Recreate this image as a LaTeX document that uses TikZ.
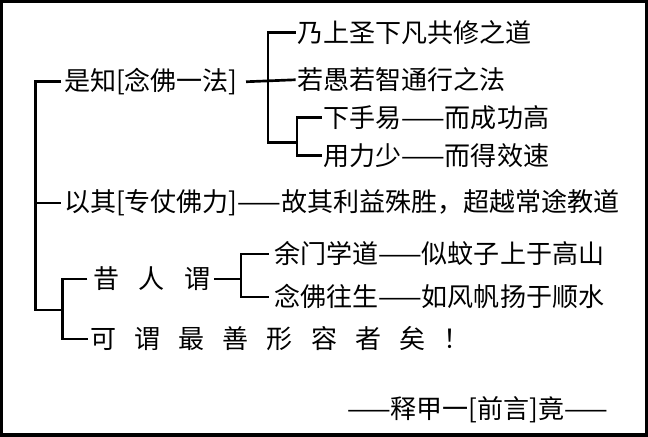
\documentclass[tikz,border=0pt]{standalone}
\usepackage{fontspec}
\setmainfont{Noto Sans CJK SC}
\usepackage{tikz}

\begin{document}
\begin{tikzpicture}[x=0.75pt,y=-0.75pt]
    \tikzstyle{txt} = [anchor=west, inner sep=0pt, font=\fontsize{19.5}{22}\selectfont]
    \tikzstyle{brk} = [line width=2pt]

    % frame
    \draw[line width=2.5pt, fill=white] (2,2) rectangle (646,435);

    % texts
    \node[txt] (shizhi) at (64,82) {是知[念佛一法]};
    \node[txt] (naishang) at (297,33) {乃上圣下凡共修之道};
    \node[txt] (ruoyu) at (297,80) {若愚若智通行之法};
    \node[txt] (xiashou) at (323,118) {下手易——而成功高};
    \node[txt] (yongli) at (323,156) {用力少——而得效速};
    \node[txt] (yiqi) at (64,203) {以其[专仗佛力]——故其利益殊胜，超越常途教道};
    \node[txt] (xiren) at (93,279) {昔\hspace{0.75em}人\hspace{0.75em}谓};
    \node[txt] (yumen) at (274,254) {余门学道——似蚊子上于高山};
    \node[txt] (nianfo) at (274,297) {念佛往生——如风帆扬于顺水};
    \node[txt] (kewei) at (90,339) {可\hspace{0.7em}谓\hspace{0.7em}最\hspace{0.7em}善\hspace{0.7em}形\hspace{0.7em}容\hspace{0.7em}者\hspace{0.7em}矣\hspace{0.7em}！};
    \node[txt] (shijia) at (347,410) {——释甲一[前言]竟——};

    % main bracket
    \draw[brk] ([xshift=-2pt]shizhi.west) -- (36,82) -- (36,310) -- (63,310);
    \draw[brk] (36,203) -- ([xshift=-2pt]yiqi.west);

    % first sub-bracket
    \draw[brk] ([xshift=6pt]shizhi.east) -- ([xshift=-1pt]ruoyu.west);
    \draw[brk] ([xshift=-1pt]naishang.west) -- (268,33) -- (268,143) -- (297,143);
    \draw[brk] ([xshift=-1pt]xiashou.west) -- (297,118) -- (297,156) -- ([xshift=-1pt]yongli.west);

    % lower bracket
    \draw[brk] ([xshift=-4pt]xiren.west) -- (63,279) -- (63,339) -- ([xshift=-1pt]kewei.west);
    \draw[brk] ([xshift=3pt]xiren.east) -- (241,279);
    \draw[brk] ([xshift=-4pt]yumen.west) -- (241,254) -- (241,297) -- ([xshift=-4pt]nianfo.west);
\end{tikzpicture}
\end{document}
